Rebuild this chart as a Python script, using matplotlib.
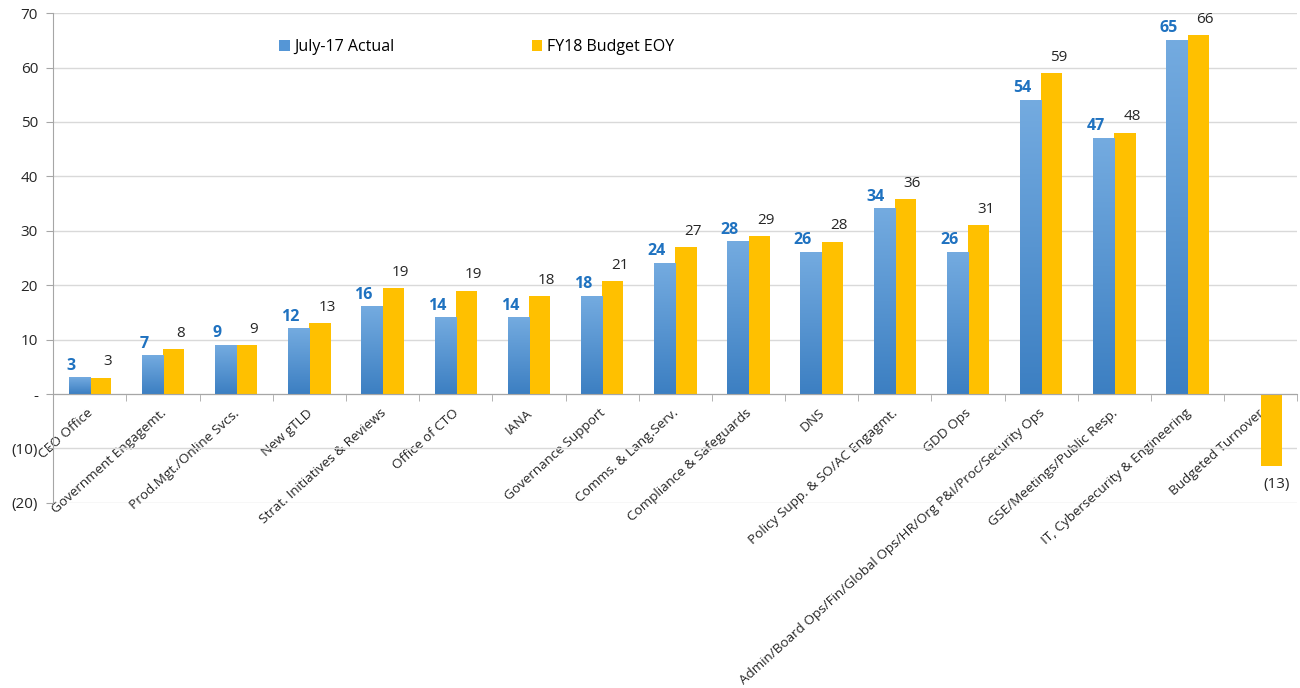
import matplotlib
matplotlib.use("Agg")
import matplotlib.pyplot as plt
import matplotlib.transforms as mtransforms
import numpy as np
from matplotlib.colors import LinearSegmentedColormap
from matplotlib.patches import Patch
from matplotlib.ticker import FixedLocator

plt.rcParams['font.family'] = ['Open Sans', 'DejaVu Sans']

categories = ["CEO Office", "Government Engagemt.", "Prod.Mgt./Online Svcs.", "New gTLD",
              "Strat. Initiatives & Reviews", "Office of CTO", "IANA", "Governance Support",
              "Comms. & Lang.Serv.", "Compliance & Safeguards", "DNS",
              "Policy Supp. & SO/AC Engagmt.", "GDD Ops",
              "Admin/Board Ops/Fin/Global Ops/HR/Org P&I/Proc/Security Ops",
              "GSE/Meetings/Public Resp.", "IT, Cybersecurity & Engineering", "Budgeted Turnover"]
actual = [3, 7, 9, 12, 16, 14, 14, 18, 24, 28, 26, 34, 26, 54, 47, 65, None]
budget = [3, 8.2, 9, 13, 19.4, 19, 18, 20.7, 27, 29, 28, 35.8, 31, 59, 48, 66, -13.2]
yticks = [-20, -10, 0, 10, 20, 30, 40, 50, 60, 70]
ytick_labels = ["(20)", "(10)", "-", "10", "20", "30", "40", "50", "60", "70"]
legend_labels = ["July-17 Actual", "FY18 Budget EOY"]

blue_top = "#74ABE0"
blue_bot = "#3C7FC2"
gold = "#FFC000"

fig = plt.figure(figsize=(13, 6.88), dpi=100)
ax = fig.add_axes([0.041, 0.269, 0.957, 0.712])

x = np.arange(len(categories))
w = 0.29
act_vals = [v if v is not None else 0 for v in actual]
bars_a = ax.bar(x - w / 2, act_vals, w, color='none', edgecolor='none', zorder=2)
bars_b = ax.bar(x + w / 2, budget, w, color=gold, edgecolor='none', zorder=2)

cmap = LinearSegmentedColormap.from_list("bg", [blue_bot, blue_top])
grad = np.linspace(0, 1, 256).reshape(-1, 1)
for b, v in zip(bars_a, actual):
    if v is None:
        continue
    bx, by, bw, bh = b.get_x(), b.get_y(), b.get_width(), b.get_height()
    ax.imshow(grad, extent=[bx, bx + bw, by, by + bh], origin='lower', aspect='auto',
              cmap=cmap, zorder=2.5, interpolation='bilinear')

ax.set_xlim(-0.5, len(categories) - 0.5)
ax.set_ylim(-20, 70)
ax.set_aspect('auto')

# data labels
for b, v in zip(bars_a, actual):
    if v is None:
        continue
    ax.annotate(f"{round(v)}", (b.get_x() + b.get_width() / 2, b.get_height()),
                xytext=(-6, 3), textcoords='offset points', ha='center', va='bottom',
                color="#1F72C0", fontsize=11.5, fontweight='bold', zorder=4)
for b, v in zip(bars_b, budget):
    cx = b.get_x() + b.get_width() / 2
    if v >= 0:
        ax.annotate(f"{round(v)}", (cx, v), xytext=(5, 6), textcoords='offset points',
                    ha='center', va='bottom', color="#262626", fontsize=11, zorder=4)
    else:
        ax.annotate(f"({round(-v)})", (cx, v), xytext=(4, -8), textcoords='offset points',
                    ha='center', va='top', color="#262626", fontsize=11, zorder=4)

# axes styling
ax.yaxis.set_major_locator(FixedLocator(yticks))
ax.set_yticklabels(ytick_labels, fontsize=11, color="#262626")
ax.grid(axis='y', color="#D9D9D9", linewidth=1, zorder=0)
ax.set_axisbelow(True)
for s in ['top', 'right']:
    ax.spines[s].set_visible(False)
ax.spines['left'].set_color("#A6A6A6")
ax.spines['bottom'].set_color("#A6A6A6")
ax.spines['bottom'].set_position(('data', 0))
ax.spines['bottom'].set_zorder(3)
ax.tick_params(axis='y', length=5, color="#A6A6A6", pad=6)

ax.set_xticks(x)
ax.set_xticklabels(categories, rotation=42, ha='right', va='top', rotation_mode='anchor',
                   fontsize=9.7, color="#262626")
ax.tick_params(axis='x', which='major', length=0, pad=9)
offset = mtransforms.ScaledTranslation(-3 / 100, 0, fig.dpi_scale_trans)
for lab in ax.get_xticklabels():
    lab.set_transform(lab.get_transform() + offset)
ax.set_xticks(np.arange(-0.5, len(categories) + 0.5, 1), minor=True)
ax.tick_params(axis='x', which='minor', length=5, color="#A6A6A6")

handles = [Patch(facecolor="#5596D6", edgecolor='none'), Patch(facecolor=gold, edgecolor='none')]
ax.legend(handles, legend_labels, loc='center left', bbox_to_anchor=(0.17, 0.93),
          ncol=2, frameon=False, fontsize=11.5, handlelength=0.65, handleheight=0.65,
          handletextpad=0.3, columnspacing=8.6)

fig.savefig("out.png", dpi=100, facecolor='white')
